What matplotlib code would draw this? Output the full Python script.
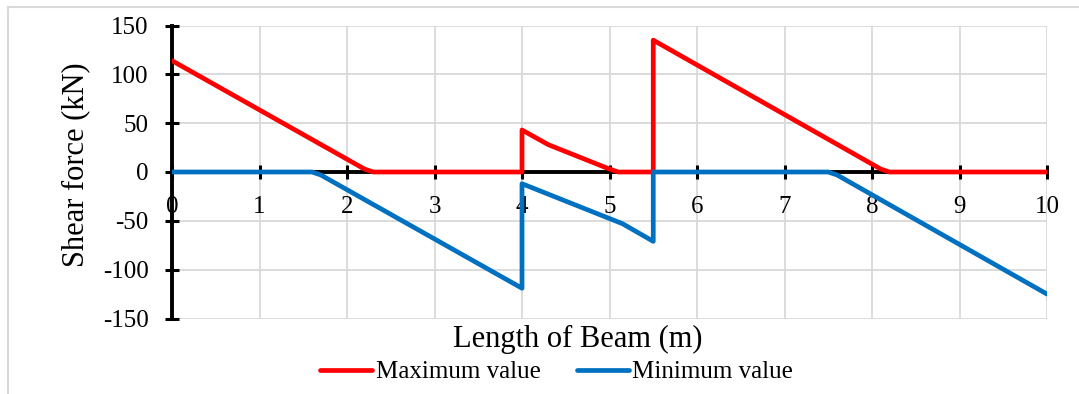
import matplotlib
matplotlib.use("Agg")
import matplotlib.pyplot as plt
from matplotlib.lines import Line2D

plt.rcParams["font.family"] = ["Liberation Serif", "DejaVu Serif"]
plt.rcParams["axes.unicode_minus"] = False

# Shear force envelope along the beam
max_x = [0.0, 2.2, 2.3, 4.0, 4.0, 4.3, 5.0, 5.1, 5.5, 5.5, 8.1, 8.2, 10.0]
max_v = [114, 3, 0, 0, 43, 28, 3, 0, 0, 135, 3, 0, 0]

min_x = [0.0, 1.6, 1.7, 4.0, 4.0, 5.15, 5.5, 5.5, 7.5, 7.6, 10.0]
min_v = [0, 0, -3, -119, -12, -53, -71, 0, 0, -3, -125]

x_ticks = list(range(0, 11))
y_ticks = [-150, -100, -50, 0, 50, 100, 150]

W, H = 1079, 394
fig = plt.figure(figsize=(W / 100, H / 100), dpi=100)

# light frame around the chart area
frame_col = "#d9d9d9"
fig.add_artist(Line2D([7.5 / W, 7.5 / W], [0, 1 - 6.5 / H], color=frame_col, lw=1.5))
fig.add_artist(Line2D([7.5 / W, 1], [1 - 6.5 / H, 1 - 6.5 / H], color=frame_col, lw=1.5))

ax = fig.add_axes([172 / W, 1 - 318.5 / H, (1047 - 172) / W, (318.5 - 25.5) / H])
ax.set_xlim(0, 10)
ax.set_ylim(-150, 150)

ax.grid(True, color="#d9d9d9", lw=1.3)
ax.set_axisbelow(True)

for s in ("top", "right"):
    ax.spines[s].set_visible(False)
ax.spines["bottom"].set_position(("data", 0))
ax.spines["bottom"].set_linewidth(2.8)
ax.spines["left"].set_linewidth(2.8)
ax.spines["bottom"].set_zorder(1.5)
ax.spines["left"].set_zorder(1.5)

ax.set_xticks(x_ticks)
ax.set_yticks(y_ticks)
ax.set_xticklabels([str(t) for t in x_ticks])
ax.set_yticklabels([str(t) for t in y_ticks])
ax.tick_params(axis="both", direction="inout", length=10, width=2.2, color="black",
               labelsize=18)
ax.tick_params(axis="x", pad=12)
ax.tick_params(axis="y", pad=12)

ax.plot(max_x, max_v, color="#ff0000", lw=3.4, solid_joinstyle="round",
        solid_capstyle="butt", label="Maximum value", zorder=3)
ax.plot(min_x, min_v, color="#0070c0", lw=3.4, solid_joinstyle="round",
        solid_capstyle="butt", label="Minimum value", zorder=3)

fig.text(578 / W, 1 - 347 / H, "Length of Beam (m)", fontsize=22,
         ha="center", va="baseline")
fig.text(76 / W, 1 - 165 / H, "Shear force (kN)", fontsize=22,
         ha="center", va="center", rotation=90)

handles, labels = ax.get_legend_handles_labels()
for h in handles:
    h.set_solid_capstyle("round")
fig.legend(handles, labels, loc="center", bbox_to_anchor=(556.5 / W, 1 - 372 / H),
           ncol=2, frameon=False, fontsize=18, handlelength=2.08,
           handletextpad=0.16, columnspacing=1.44, borderpad=0, borderaxespad=0)

fig.savefig("out.png", dpi=100)
